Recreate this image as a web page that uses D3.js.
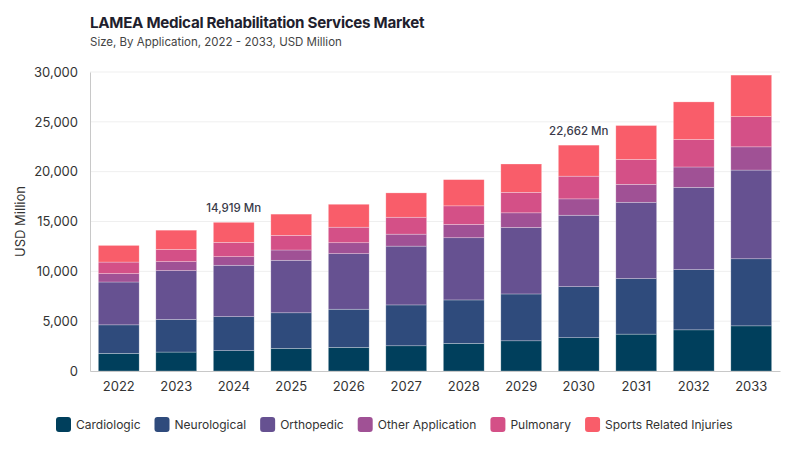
<!DOCTYPE html>
<html>
<head>
<meta charset="utf-8">
<script src="https://cdn.jsdelivr.net/npm/d3@7"></script>
<style>
  body { margin: 0; background: #fff; font-family: Inter, "Noto Sans", sans-serif; }
  svg text { font-family: Inter, "Noto Sans", sans-serif; }
</style>
</head>
<body>
<svg id="chart" width="800" height="450"></svg>
<script>
// data (USD Million)
const years = ['2022', '2023', '2024', '2025', '2026', '2027', '2028', '2029', '2030', '2031', '2032', '2033']
const segments = ['Cardiologic', 'Neurological', 'Orthopedic', 'Other Application', 'Pulmonary', 'Sports Related Injuries']
const cardiologic = [1770, 1900, 2040, 2270, 2370, 2530, 2770, 3030, 3340, 3700, 4130, 4530]
const neurological = [2860, 3270, 3410, 3570, 3830, 4100, 4360, 4700, 5120, 5570, 6040, 6730]
const orthopedic = [4300, 4900, 5160, 5270, 5570, 5900, 6240, 6670, 7170, 7660, 8260, 8900]
const otherApplication = [840, 900, 860, 1030, 1100, 1200, 1330, 1470, 1640, 1800, 2040, 2330]
const pulmonary = [1160, 1230, 1440, 1470, 1560, 1700, 1870, 2060, 2280, 2500, 2760, 3030]
const sportsInjuries = [1670, 1930, 2009, 2130, 2300, 2440, 2630, 2840, 3112, 3400, 3770, 4170]
const yTicks = [0, 5000, 10000, 15000, 20000, 25000, 30000]
const callouts = [{ year: '2024', label: '14,919 Mn' }, { year: '2030', label: '22,662 Mn' }]
const colors = ['#003f5c', '#2f4b7c', '#665191', '#a05195', '#d45087', '#f95d6a']

const series = [cardiologic, neurological, orthopedic, otherApplication, pulmonary, sportsInjuries]
const rows = years.map((y, i) => {
  const r = { year: y }
  segments.forEach((s, j) => { r[s] = series[j][i] })
  return r
})

const svg = d3.select('#chart')
const margin = { top: 72, right: 20, bottom: 79, left: 90 }
const width = 800 - margin.left - margin.right
const height = 450 - margin.top - margin.bottom

const x = d3.scaleBand().domain(years).range([0, width]).paddingInner(0.29).paddingOuter(0.145)
const y = d3.scaleLinear().domain([0, 30000]).range([height, 0])
const color = d3.scaleOrdinal().domain(segments).range(colors)

// title
svg.append('text').attr('x', 90).attr('y', 28)
  .attr('font-size', 15.2).attr('font-weight', 700).attr('fill', '#1f1f2e')
  .attr('letter-spacing', -0.3)
  .text('LAMEA Medical Rehabilitation Services Market')
svg.append('text').attr('x', 90).attr('y', 46)
  .attr('font-size', 11.5).attr('fill', '#444')
  .text('Size, By Application, 2022 - 2033, USD Million')

const g = svg.append('g').attr('transform', `translate(${margin.left},${margin.top})`)

// gridlines
g.append('g')
  .selectAll('line')
  .data(yTicks.slice(1))
  .enter()
  .append('line')
  .attr('x1', 0).attr('x2', width)
  .attr('y1', d => y(d)).attr('y2', d => y(d))
  .attr('stroke', '#efefef')

// y axis
const yAxis = g.append('g')
  .call(d3.axisLeft(y).tickValues(yTicks).tickFormat(d3.format(',')).tickSize(0).tickPadding(12))
yAxis.select('.domain').attr('stroke', '#c8c8c8')
yAxis.selectAll('text').attr('font-size', 13).attr('fill', '#333')

svg.append('text')
  .attr('transform', `translate(25,${margin.top + height / 2}) rotate(-90)`)
  .attr('text-anchor', 'middle')
  .attr('font-size', 13).attr('fill', '#333')
  .text('USD Million')

// stacked bars
const stacked = d3.stack().keys(segments)(rows)
g.append('g')
  .selectAll('g')
  .data(stacked)
  .enter()
  .append('g')
  .attr('fill', d => color(d.key))
  .selectAll('rect')
  .data(d => d)
  .enter()
  .append('rect')
  .attr('x', d => x(d.data.year))
  .attr('y', d => y(d[1]))
  .attr('width', x.bandwidth())
  .attr('height', d => y(d[0]) - y(d[1]))
  .attr('stroke', 'rgba(255,255,255,0.45)')
  .attr('stroke-width', 0.6)

// x axis
const xAxis = g.append('g')
  .attr('transform', `translate(0,${height})`)
  .call(d3.axisBottom(x).tickSize(0).tickPadding(11))
xAxis.select('.domain').attr('stroke', '#c8c8c8')
xAxis.selectAll('text').attr('font-size', 13).attr('fill', '#333')

// callouts
const totals = {}
rows.forEach(r => { totals[r.year] = d3.sum(segments, s => r[s]) })
g.append('g')
  .selectAll('text')
  .data(callouts)
  .enter()
  .append('text')
  .attr('x', d => x(d.year) + x.bandwidth() / 2)
  .attr('y', d => y(totals[d.year]) - 10)
  .attr('text-anchor', 'middle')
  .attr('font-size', 11.5).attr('font-weight', 500).attr('fill', '#3a3a4a')
  .text(d => d.label)

// legend
const legend = svg.append('g').attr('transform', 'translate(56,417)')
let offset = 0
segments.forEach(s => {
  const item = legend.append('g').attr('transform', `translate(${offset},0)`)
  item.append('rect')
    .attr('width', 15).attr('height', 15).attr('rx', 3)
    .attr('fill', color(s))
  const t = item.append('text')
    .attr('x', 20).attr('y', 12)
    .attr('font-size', 12).attr('fill', '#333')
    .text(s)
  offset += 20 + t.node().getComputedTextLength() + 14
})
</script>
</body>
</html>
